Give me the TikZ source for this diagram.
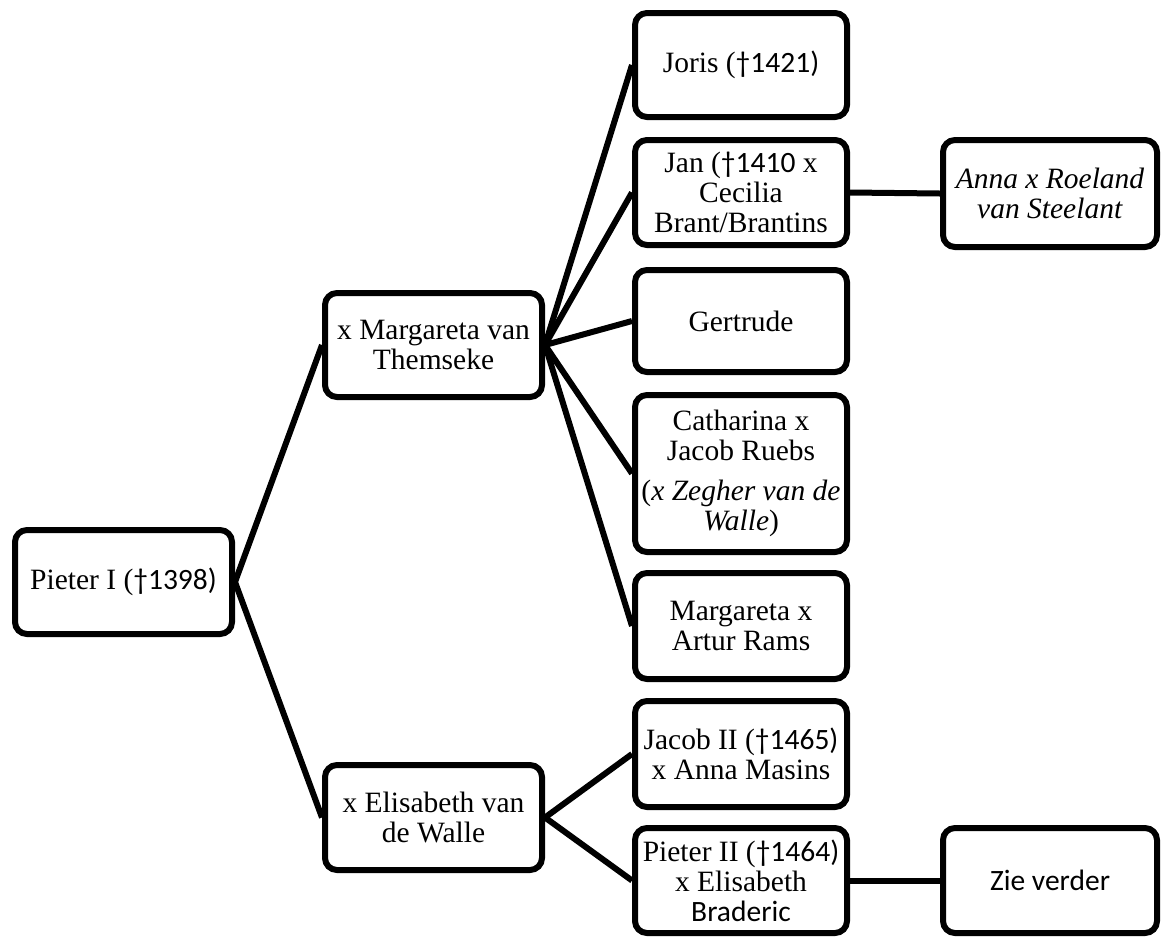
\documentclass[tikz,border=0pt]{standalone}
\usepackage{fontspec}
\setmainfont{Liberation Serif}
\newfontfamily\calib{Carlito}
\begin{document}
\begin{tikzpicture}[x=0.5pt,y=-0.5pt,
	box/.style={draw,line width=3pt,rounded corners=6pt,align=center,inner sep=2pt,
		minimum width=106pt,minimum height=52.5pt,font=\fontsize{14.75}{15}\selectfont},
	link/.style={line width=3pt}]
	\useasboundingbox (0,0) rectangle (1162,938);
	% generation 1 and marriages
	\node[box,minimum width=108.5pt,minimum height=52pt] (P1) at (123.5,582) {Pieter I ({\calib †1398)}};
	\node[box,minimum width=108.5pt,minimum height=52pt] (M) at (433.5,345) {x Margareta van\\Themseke};
	\node[box,minimum width=108.5pt] (E) at (433.5,817.5) {x Elisabeth van\\de Walle};
	% children
	\node[box,minimum height=52pt] (Jo) at (741,65) {Joris ({\calib †1421)}};
	\node[box] (Ja) at (741,192.5) {Jan ({\calib †1410} x\\Cecilia\\Brant/Brantins};
	\node[box,minimum height=51pt] (G) at (741,321) {Gertrude};
	\node[box,minimum height=78.5pt] (C) at (741,473.5) {Catharina x\\Jacob Ruebs\\[5pt](\textit{x Zegher van de}\\\textit{Walle})};
	\node[box,minimum height=53pt] (MA) at (741,626) {Margareta x\\Artur Rams};
	\node[box,minimum height=53pt] (J2) at (741,754) {Jacob II ({\calib †1465)}\\x Anna Masins};
	\node[box] (P2) at (741,880.5) {Pieter II ({\calib †1464)}\\x Elisabeth\\{\calib Braderic}};
	% grandchildren
	\node[box,minimum width=107pt,minimum height=53.5pt] (A) at (1050,193.5) {\textit{Anna x Roeland}\\\textit{van Steelant}};
	\node[box,minimum width=107pt] (Z) at (1050,880.5) {{\calib Zie verder}};
	% lines
	\draw[link] (P1.east) -- (M.west);
	\draw[link] (P1.east) -- (E.west);
	\foreach \c in {Jo,Ja,G,C,MA}
		\draw[link] (M.east) -- (\c.west);
	\foreach \c in {J2,P2}
		\draw[link] (E.east) -- (\c.west);
	\draw[link] (Ja.east) -- (A.west);
	\draw[link] (P2.east) -- (Z.west);
\end{tikzpicture}
\end{document}
